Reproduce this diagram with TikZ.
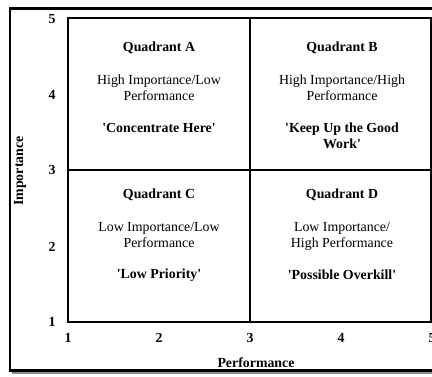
\documentclass[tikz,border=0pt]{standalone}
\usepackage{fontspec}
\setmainfont{Liberation Serif}
\usetikzlibrary{positioning}

\newcommand{\q}{\textquotesingle}

\begin{document}
\begin{tikzpicture}[x=0.75pt,y=-0.75pt,
    every node/.style={font=\fontsize{10.4}{12}\selectfont,align=center,inner sep=0pt},
    heading/.style={font=\fontsize{10.4}{12}\selectfont\bfseries,anchor=base},
    label text/.style={anchor=base},
    tick/.style={font=\fontsize{10.4}{12}\selectfont\bfseries},
    box line/.style={line width=1.7pt},
    mid line/.style={line width=1.4pt}]
    \useasboundingbox (0,0) rectangle (432,376);
    \clip (0,0) rectangle (432,376);

    % frame with its shadow
    \fill[black!45] (12,11) rectangle (445,374);
    \draw[line width=1.8pt,fill=white] (10,8.5) rectangle (445,370.5);

    % the four quadrants
    \coordinate (ll) at (68,322);
    \coordinate (ur) at (431,18);
    \coordinate (cc) at (250,170);
    \draw[box line] (ll) rectangle (ur);
    \draw[mid line] (cc |- ur) -- (cc |- ll);
    \draw[mid line] (cc -| ll) -- (cc -| ur);

    % axis numbers
    \foreach \n/\px in {1/68,2/159,3/250,4/341,5/432}
        \node[tick] (x\n) at (\px,338) {\n};
    \foreach \n/\py in {1/322,2/247,3/170,4/95,5/19}
        \node[tick] (y\n) at (52,\py) {\n};
    \node[tick] (xlabel) at (256,363) {Performance};
    \node[tick,rotate=90] (ylabel) at (20,171) {Importance};

    % Quadrant A
    \node[heading] (titleA) at (159,51) {Quadrant A};
    \node[label text] (descA) at (159,100) {High Importance/Low\\Performance};
    \node[heading] (mottoA) at (159,132) {\q Concentrate Here\q};

    % Quadrant B
    \node[heading] (titleB) at (342,51) {Quadrant B};
    \node[label text] (descB) at (342,100) {High Importance/High\\Performance};
    \node[heading] (mottoB) at (342,148) {\q Keep Up the Good\\Work\q};

    % Quadrant C
    \node[heading] (titleC) at (159,198) {Quadrant C};
    \node[label text] (descC) at (159,247) {Low Importance/Low\\Performance};
    \node[heading] (mottoC) at (159,278) {\q Low Priority\q};

    % Quadrant D
    \node[heading] (titleD) at (342,198) {Quadrant D};
    \node[label text] (descD) at (342,247) {Low Importance/\\High Performance};
    \node[heading] (mottoD) at (342,279) {\q Possible Overkill\q};
\end{tikzpicture}
\end{document}
